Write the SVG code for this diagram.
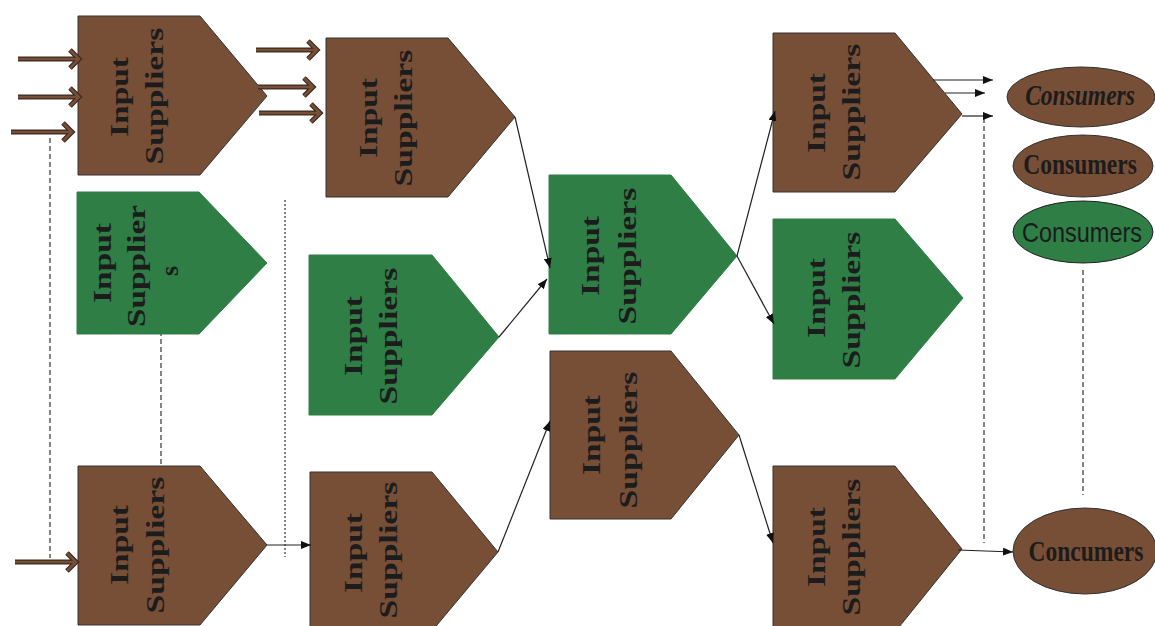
<svg xmlns="http://www.w3.org/2000/svg" xmlns:xlink="http://www.w3.org/1999/xlink" width="1155" height="626" viewBox="0 0 1155 626">
  <style>
    .brown { fill: #774E36; stroke: #333; stroke-width: 1; }
    .green { fill: #2E7E46; stroke: #2E7E46; stroke-width: 1; }
    .lbl { font-family: "Liberation Serif", "Times New Roman", serif; font-weight: bold; font-size: 26px; fill: #1c1c1c; text-anchor: middle; }
    .con { stroke: #222; stroke-width: 1.2; fill: none; }
    .dash { stroke: #333; stroke-width: 1.2; fill: none; stroke-dasharray: 5 3; }
    .dot { stroke: #333; stroke-width: 1.2; fill: none; stroke-dasharray: 2 2; }
    .fatOut { stroke: #3a2a20; stroke-width: 5; fill: none; stroke-linejoin: miter; }
    .fatIn { stroke: #774E36; stroke-width: 2.6; fill: none; stroke-linejoin: miter; }
    .cons { font-family: "Liberation Serif", "Times New Roman", serif; font-weight: bold; font-size: 23.5px; fill: #1c1c1c; text-anchor: middle; }
    .consSans { font-family: "Liberation Sans", Arial, sans-serif; font-size: 23.5px; fill: #1c1c1c; text-anchor: middle; }
  </style>
  <defs>
    <marker id="tri" viewBox="0 0 10 8" refX="10" refY="4" markerWidth="10" markerHeight="8" markerUnits="userSpaceOnUse" orient="auto">
      <path d="M0,0 L10,4 L0,8 Z" fill="#111"/>
    </marker>
    <!-- hollow double-stroked input arrows -->
    <g id="fatArrows">
      <path d="M18,59 H79 M70,50 L79,59 L70,68"/>
      <path d="M18,97 H79 M70,88 L79,97 L70,106"/>
      <path d="M11,132 H72 M63,123 L72,132 L63,141"/>
      <path d="M15,562 H76 M67,553 L76,562 L67,571"/>
      <path d="M256,50 H317 M308,41 L317,50 L308,59"/>
      <path d="M258,87 H313 M304,78 L313,87 L304,96"/>
      <path d="M259,113 H320 M311,104 L320,113 L311,122"/>
    </g>
  </defs>

  <rect width="1155" height="626" fill="#fff"/>

  <!-- guide lines -->
  <g id="guides">
    <line class="dash" x1="50" y1="138" x2="50" y2="558"/>
    <line class="dash" x1="161" y1="323" x2="161" y2="472"/>
    <line class="dot" x1="285" y1="200" x2="285" y2="557"/>
    <line class="dash" x1="984" y1="118" x2="984" y2="543"/>
    <line class="dash" x1="1083" y1="270" x2="1083" y2="495"/>
  </g>

  <g id="n1" transform="translate(78,16)">
    <polygon class="brown" points="0,0 122,0 189,80 122,159 0,159"/>
    <text class="lbl" transform="translate(50,81) rotate(-90)" textLength="80" lengthAdjust="spacingAndGlyphs">Input</text>
    <text class="lbl" transform="translate(85,80) rotate(-90)" textLength="137" lengthAdjust="spacingAndGlyphs">Suppliers</text>
  </g>
  <g id="n2" transform="translate(326,38)">
    <polygon class="brown" points="0,0 122,0 189,79 122,159 0,159"/>
    <text class="lbl" transform="translate(51,80) rotate(-90)" textLength="80" lengthAdjust="spacingAndGlyphs">Input</text>
    <text class="lbl" transform="translate(86,80) rotate(-90)" textLength="137" lengthAdjust="spacingAndGlyphs">Suppliers</text>
  </g>
  <g id="n3" transform="translate(77,192)">
    <polygon class="green" points="0,0 122,0 190,71 122,142 0,142"/>
    <text class="lbl" transform="translate(34,71) rotate(-90)" textLength="80" lengthAdjust="spacingAndGlyphs">Input</text>
    <text class="lbl" transform="translate(68,74) rotate(-90)" textLength="122" lengthAdjust="spacingAndGlyphs">Supplier</text>
    <text class="lbl" transform="translate(101,79) rotate(-90)">s</text>
  </g>
  <g id="n4" transform="translate(309,255)">
    <polygon class="green" points="0,0 123,0 190,82 123,160 0,160"/>
    <text class="lbl" transform="translate(53,81) rotate(-90)" textLength="80" lengthAdjust="spacingAndGlyphs">Input</text>
    <text class="lbl" transform="translate(88,81) rotate(-90)" textLength="137" lengthAdjust="spacingAndGlyphs">Suppliers</text>
  </g>
  <g id="n5" transform="translate(78,466)">
    <polygon class="brown" points="0,0 122,0 189,79 122,159 0,159"/>
    <text class="lbl" transform="translate(50,79) rotate(-90)" textLength="80" lengthAdjust="spacingAndGlyphs">Input</text>
    <text class="lbl" transform="translate(86,79) rotate(-90)" textLength="137" lengthAdjust="spacingAndGlyphs">Suppliers</text>
  </g>
  <g id="n6" transform="translate(310,472)">
    <polygon class="brown" points="0,0 122,0 188,80 122,159 0,159"/>
    <text class="lbl" transform="translate(52,81) rotate(-90)" textLength="80" lengthAdjust="spacingAndGlyphs">Input</text>
    <text class="lbl" transform="translate(87,78) rotate(-90)" textLength="137" lengthAdjust="spacingAndGlyphs">Suppliers</text>
  </g>
  <g id="n7" transform="translate(549,175)">
    <polygon class="green" points="0,0 122,0 188,81 122,159 0,159"/>
    <text class="lbl" transform="translate(50,81) rotate(-90)" textLength="80" lengthAdjust="spacingAndGlyphs">Input</text>
    <text class="lbl" transform="translate(87,81) rotate(-90)" textLength="137" lengthAdjust="spacingAndGlyphs">Suppliers</text>
  </g>
  <g id="n8" transform="translate(550,351)">
    <polygon class="brown" points="0,0 121,0 189,84 121,168 0,168"/>
    <text class="lbl" transform="translate(50,84) rotate(-90)" textLength="80" lengthAdjust="spacingAndGlyphs">Input</text>
    <text class="lbl" transform="translate(87,89) rotate(-90)" textLength="137" lengthAdjust="spacingAndGlyphs">Suppliers</text>
  </g>
  <g id="n9" transform="translate(773,33)">
    <polygon class="brown" points="0,0 122,0 189,81 122,159 0,159"/>
    <text class="lbl" transform="translate(52,80) rotate(-90)" textLength="80" lengthAdjust="spacingAndGlyphs">Input</text>
    <text class="lbl" transform="translate(87,79) rotate(-90)" textLength="137" lengthAdjust="spacingAndGlyphs">Suppliers</text>
  </g>
  <g id="n10" transform="translate(773,219)">
    <polygon class="green" points="0,0 122,0 190,79 122,160 0,160"/>
    <text class="lbl" transform="translate(52,79) rotate(-90)" textLength="80" lengthAdjust="spacingAndGlyphs">Input</text>
    <text class="lbl" transform="translate(87,81) rotate(-90)" textLength="137" lengthAdjust="spacingAndGlyphs">Suppliers</text>
  </g>
  <g id="n11" transform="translate(773,466)">
    <polygon class="brown" points="0,0 122,0 189,83 122,166 0,166"/>
    <text class="lbl" transform="translate(52,81) rotate(-90)" textLength="80" lengthAdjust="spacingAndGlyphs">Input</text>
    <text class="lbl" transform="translate(87,81) rotate(-90)" textLength="137" lengthAdjust="spacingAndGlyphs">Suppliers</text>
  </g>

  <g id="c1">
    <ellipse class="brown" cx="1081" cy="97" rx="74" ry="30"/>
    <text class="cons" transform="translate(1080,105) scale(1,1.25)" font-style="italic">Consumers</text>
  </g>
  <g id="c2">
    <ellipse class="brown" cx="1083" cy="166" rx="70" ry="31"/>
    <text class="cons" transform="translate(1080,174) scale(1,1.25)">Consumers</text>
  </g>
  <g id="c3">
    <ellipse class="green" cx="1083" cy="232" rx="70" ry="31" style="stroke:#222"/>
    <text class="consSans" transform="translate(1082,242) scale(1,1.18)">Consumers</text>
  </g>
  <g id="c4">
    <ellipse class="brown" cx="1085" cy="551" rx="72" ry="43"/>
    <text class="cons" transform="translate(1086,561) scale(1,1.25)">Concumers</text>
  </g>

  <g id="connectors">
    <use xlink:href="#fatArrows" class="fatOut"/>
    <use xlink:href="#fatArrows" class="fatIn"/>
    <line class="con" x1="515" y1="117" x2="550" y2="268" marker-end="url(#tri)"/>
    <line class="con" x1="499" y1="337" x2="547" y2="279" marker-end="url(#tri)"/>
    <line class="con" x1="737" y1="256" x2="775" y2="111" marker-end="url(#tri)"/>
    <line class="con" x1="737" y1="256" x2="774" y2="324" marker-end="url(#tri)"/>
    <line class="con" x1="498" y1="552" x2="550" y2="421" marker-end="url(#tri)"/>
    <line class="con" x1="739" y1="435" x2="773" y2="543" marker-end="url(#tri)"/>
    <line class="con" x1="267" y1="545" x2="311" y2="545" marker-end="url(#tri)"/>
    <line class="con" x1="958" y1="550" x2="1013" y2="552" marker-end="url(#tri)"/>
    <line class="con" x1="933" y1="80" x2="993" y2="80" marker-end="url(#tri)"/>
    <line class="con" x1="945" y1="93" x2="985" y2="93" marker-end="url(#tri)"/>
    <line class="con" x1="962" y1="116" x2="993" y2="116" marker-end="url(#tri)"/>
  </g>
</svg>
